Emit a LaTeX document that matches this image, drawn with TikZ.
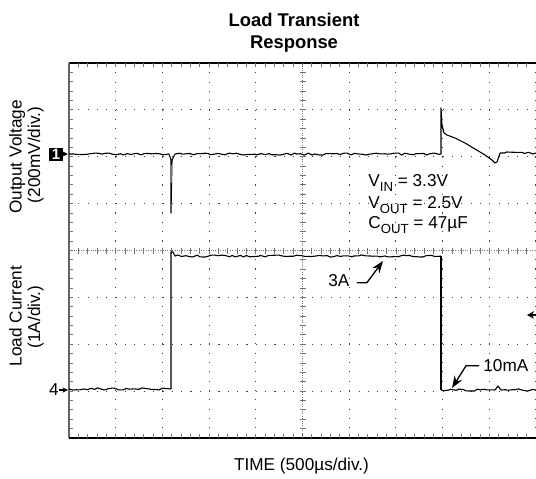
\documentclass[tikz,border=0pt]{standalone}
\usepackage{fontspec}
\setmainfont{Liberation Sans}
\usetikzlibrary{arrows.meta,decorations.pathmorphing}
\newcommand{\subtxt}[1]{\raisebox{-2.6pt}{\fontsize{6.6}{7}\selectfont #1}}

\begin{document}
\begin{tikzpicture}[x=0.5pt,y=-0.5pt,
    trace/.style={black,line width=0.55pt,line join=round},
    noisy/.style={decorate,decoration={random steps,segment length=1.8pt,amplitude=0.55pt}},
    gridline/.style={black!75,line width=0.55pt,dash pattern=on 0.55pt off 4.12pt},
    ticks/.style={black!55,line width=0.4pt},
    lbl/.style={font=\fontsize{8.6}{10}\selectfont,inner sep=0pt},
    pointer/.style={line width=0.65pt,-{Stealth[length=6pt,width=4.4pt]}}]
    \pgfmathsetseed{11}
    \useasboundingbox[fill=white] (0,0) rectangle (536,478);

    % Draw grid
    \foreach \i in {1,2,3,4,6,7,8,9,10}
        \draw[gridline] ({69+\i*46.7},63) -- ({69+\i*46.7},438);
    \foreach \j in {1,2,3,5,6,7}
        \draw[gridline] (69,{63+\j*46.875}) -- (536,{63+\j*46.875});

    % Draw center lines with ticks
    \draw[ticks,dash pattern=on 0.5pt off 0.7pt] (302.5,63) -- (302.5,438);
    \draw[ticks,dash pattern=on 0.5pt off 0.7pt] (69,250.5) -- (536,250.5);
    \foreach \k in {1,...,49}
        \draw[ticks] ({69+\k*9.34},247.5) -- ({69+\k*9.34},253.5);
    \foreach \k in {1,...,39}
        \draw[ticks] (299.5,{63+\k*9.375}) -- (305.5,{63+\k*9.375});

    % Draw frame
    \draw[line width=0.7pt] (536,63) -- (69,63);
    \draw[black!60,line width=0.8pt] (69,63) -- (69,438);
    \draw[line width=0.7pt] (69,438) -- (536,438);
    \foreach \k in {1,...,49} {
        \draw[ticks] ({69+\k*9.34},63) -- ({69+\k*9.34},67);
        \draw[ticks] ({69+\k*9.34},434) -- ({69+\k*9.34},438);
    }
    \foreach \k in {1,...,39}
        \draw[ticks] (69,{63+\k*9.375}) -- (73,{63+\k*9.375});

    % Output voltage trace
    \draw[trace,noisy] (69,154) -- (169,154);
    \draw[trace] (169,154) -- (171,160) -- (171,213) -- (172,160) -- (175,154);
    \draw[black!55,line width=1.2pt] (171,165) -- (171,183);
    \draw[trace,noisy] (175,154) -- (441,154);
    \draw[trace] (441,154) -- (441,108) -- (442,125) -- (444,133) -- (447,135)
        -- (455,138) -- (465,143) -- (475,149) -- (485,155) -- (492,160)
        -- (495,163) -- (497,162) -- (500,153);
    \draw[trace,noisy] (500,153) -- (536,153);

    % Load current trace
    \draw[trace,noisy] (69,389) -- (171,389);
    \draw[trace] (171,389) -- (171,252) -- (173,252) -- (175,256);
    \draw[trace,noisy] (175,256) -- (441,256);
    \draw[trace] (441,256) -- (441,390);
    \draw[trace,noisy] (441,390) -- (495,390);
    \draw[trace] (495,390) -- (498,386) -- (501,390);
    \draw[trace,noisy] (501,390) -- (536,390);

    % Channel markers
    \node[fill=black,text=white,inner sep=0pt,minimum width=7pt,minimum height=6.5pt,
        font=\fontsize{7.5}{7.5}\selectfont\bfseries] (mark1) at (56,154) {1};
    \coordinate (mark1end) at (68,154);
    \draw[line width=0.55pt,-{Stealth[length=2.8pt,width=2.6pt]}] (mark1.east) -- (mark1end);
    \node[lbl,anchor=east] (mark4) at (59,390) {4};
    \coordinate (mark4end) at (68,390);
    \draw[line width=0.55pt,-{Stealth[length=2.8pt,width=2.6pt]}] (mark4.east) -- (mark4end);
    \coordinate (trigstart) at (537,315);
    \coordinate (trigend) at (527,315);
    \draw[line width=0.6pt,-{Stealth[length=3.5pt,width=3.8pt]}] (trigstart) -- (trigend);

    % Title and axis labels
    \node[lbl,font=\fontsize{9.2}{10}\selectfont\bfseries,anchor=base] (title1) at (294,26.7) {Load Transient};
    \node[lbl,font=\fontsize{9.2}{10}\selectfont\bfseries,anchor=base] (title2) at (294,48.3) {Response};
    \node[lbl,rotate=90,anchor=base] (ylab1) at (21.5,157) {Output Voltage};
    \node[lbl,rotate=90,anchor=base] (ylab1b) at (40,155) {(200mV/div.)};
    \node[lbl,rotate=90,anchor=base] (ylab2) at (21.5,316) {Load Current};
    \node[lbl,rotate=90,anchor=base] (ylab2b) at (40,317) {(1A/div.)};
    \node[lbl,anchor=base] (xlab) at (301.5,470) {TIME (500µs/div.)};

    % Conditions
    \node[lbl,anchor=base west] (vin) at (368,186.7) {V\subtxt{IN} = 3.3V};
    \node[lbl,anchor=base west] (vout) at (368,208.3) {V\subtxt{OUT} = 2.5V};
    \node[lbl,anchor=base west] (cout) at (368,228.3) {C\subtxt{OUT} = 47µF};

    % Annotations
    \node[lbl,anchor=base west] (lbl3A) at (328,286.7) {3A};
    \coordinate (tip3A) at (383,261);
    \draw[pointer] ([xshift=3.5pt,yshift=-1pt]lbl3A.east) -- ++(10,0) -- (tip3A);
    \node[lbl,anchor=base west] (lbl10mA) at (483,371.7) {10mA};
    \coordinate (tip10mA) at (452,388);
    \draw[pointer] ([xshift=-2pt]lbl10mA.west) -- ++(-13,0) -- (tip10mA);
\end{tikzpicture}
\end{document}
